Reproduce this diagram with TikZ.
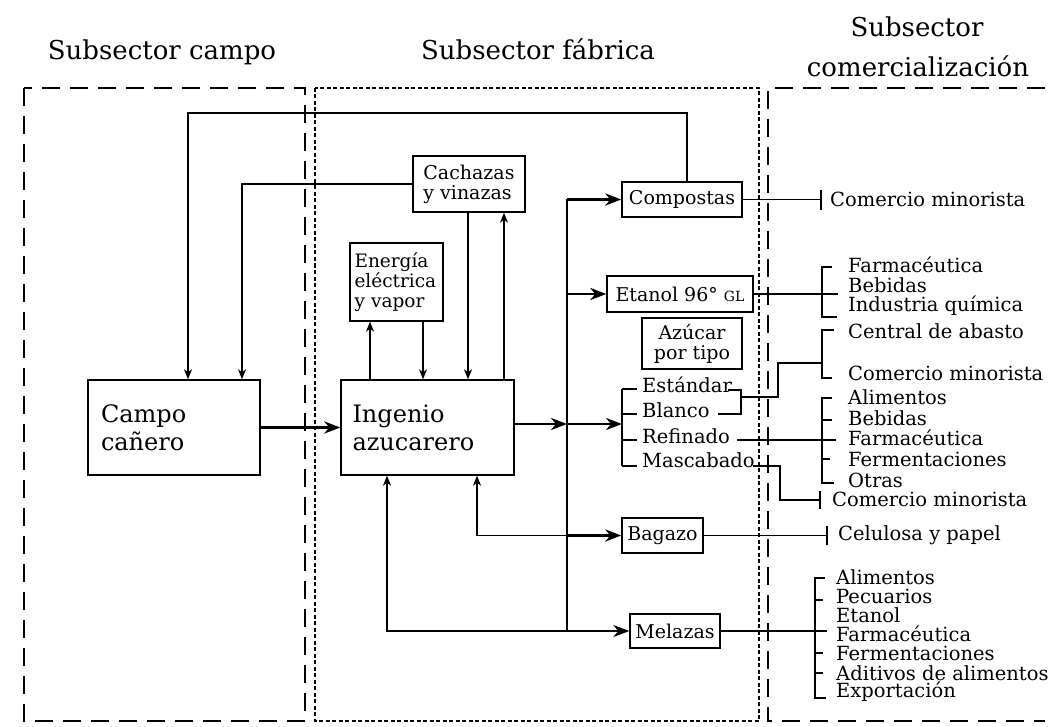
\documentclass[tikz,border=0pt]{standalone}
\usepackage{fontspec}
\setmainfont{DejaVu Serif}
\usetikzlibrary{arrows.meta}

\newcommand\ttlfont{\fontsize{26}{30}\selectfont}
\newcommand\bxfont{\fontsize{24}{28}\selectfont}
\newcommand\smfont{\fontsize{19}{20}\selectfont}
\newcommand\lblfont{\fontsize{19.5}{20}\selectfont}

\begin{document}
\begin{tikzpicture}[x=1pt,y=-1pt,
  ttl/.style={font=\ttlfont, inner sep=0pt, anchor=base},
  box/.style={draw, line width=1.4pt, inner sep=0pt, font=\smfont, align=center},
  bigbox/.style={draw, line width=1.4pt, inner sep=0pt, font=\bxfont, align=left,
                 minimum height=95pt},
  lbl/.style={font=\lblfont, inner sep=0pt, anchor=west},
  ln/.style={line width=1.2pt},
  med/.style={line width=1.6pt},
  heavy/.style={line width=2.8pt},
  ar/.style={-{Stealth[length=10pt,width=8pt,inset=3pt]}},
  rar/.style={{Stealth[length=10pt,width=8pt,inset=3pt]}-},
  har/.style={-{Stealth[length=16pt,width=12pt,inset=5pt]}},
  longdash/.style={line width=2pt, dash pattern=on 18pt off 10pt},
  finedash/.style={line width=1.3pt, dash pattern=on 4pt off 2.5pt},
]
\useasboundingbox (0,0) rectangle (1051,727);

% ---- sector frames ----
\draw[longdash] (24,88) rectangle (305,721);
\draw[finedash] (315,88) rectangle (759,721);
\draw[longdash] (1045,88) -- (768,88) -- (768,721) -- (1045,721);

% ---- titles ----
\node[ttl] (tcampo) at (162,60) {Subsector campo};
\node[ttl] (tfab) at (538,60) {Subsector fábrica};
\node[ttl] (tcom1) at (917,37) {Subsector};
\node[ttl] (tcom2) at (918,77) {comercialización};

% ---- boxes ----
\node[bigbox, minimum width=172pt, text width=146pt] (campo) at (174,427.5) {Campo\\cañero};
\node[bigbox, minimum width=173pt, text width=150pt] (ingenio) at (427.5,427.5) {Ingenio\\azucarero};
\node[box, minimum width=112pt, minimum height=56pt, align=left] (cachazas) at (469,184) {Cachazas\\y vinazas};
\node[box, minimum width=93pt, minimum height=78pt, text width=84pt, align=left,
      font=\fontsize{18.5}{20}\selectfont] (energia) at (396.5,282) {Energía\\eléctrica\\y vapor};
\node[box, minimum width=120pt, minimum height=35pt] (compostas) at (682,199.5) {Compostas};
\node[box, minimum width=146pt, minimum height=36pt] (etanol) at (680,294)
      {Etanol 96° {\fontsize{14}{14}\selectfont GL}};
\node[box, minimum width=100pt, minimum height=51pt] (azucar) at (692,343.5) {Azúcar\\por tipo};
\node[box, minimum width=81pt, minimum height=35pt] (bagazo) at (662.5,535.5) {Bagazo};
\node[box, minimum width=90pt, minimum height=34pt] (melazas) at (675,631) {Melazas};

% ---- columns and rows used by the connectors ----
\coordinate (xloop) at (188,0);
\coordinate (xcach) at (242,0);
\coordinate (xen1) at (370,0);
\coordinate (xen2) at (423,0);
\coordinate (xmel) at (387,0);
\coordinate (xbag) at (477,0);
\coordinate (xca1) at (468,0);
\coordinate (xca2) at (504,0);
\coordinate (xcomp) at (687,0);
\coordinate (trunk) at (567,0);
\coordinate (ytop) at (0,113);
\coordinate (ysug) at (0,424);
\coordinate (sbr) at (622,0);

% ---- returns to the field ----
\draw[ln, ar] (compostas.north -| xcomp) -- (xcomp |- ytop) -| (campo.north -| xloop);
\draw[ln, ar] (cachazas.west) -| (campo.north -| xcach);

% ---- exchanges around the mill ----
\draw[ln, ar] (cachazas.south -| xca1) -- (ingenio.north -| xca1);
\draw[ln, ar] (ingenio.north -| xca2) -- (cachazas.south -| xca2);
\draw[ln, ar] (ingenio.north -| xen1) -- (energia.south -| xen1);
\draw[ln, ar] (energia.south -| xen2) -- (ingenio.north -| xen2);

% ---- main flow ----
\draw[heavy, har] (campo.east) -- (ingenio.west);
\draw[heavy, har] (ingenio.east |- ysug) -- (trunk |- ysug);
\draw[heavy, har] (trunk |- ysug) -- (sbr |- ysug);
\draw[med] (trunk |- compostas.west) -- (trunk |- melazas.west);
\draw[heavy, har] (trunk |- compostas.west) -- (compostas.west);
\draw[heavy, har] (trunk |- etanol.west) -- (etanol.west);
\draw[med, rar] (ingenio.south -| xbag) |- (trunk |- bagazo.west);
\draw[heavy, har] (trunk |- bagazo.west) -- (bagazo.west);
\draw[med, rar] (ingenio.south -| xmel) |- (trunk |- melazas.west);
\draw[med, har] (trunk |- melazas.west) -- (melazas.west);

% ---- sugar types ----
\node[lbl] (est) at (642,385) {Estándar};
\node[lbl] (bla) at (642,410) {Blanco};
\node[lbl] (ref) at (642,436) {Refinado};
\node[lbl] (mas) at (642,460) {Mascabado};
\draw[ln] (622,389) -- (622,466);
\foreach \yy in {389,414,440,466} \draw[ln] (622,\yy) -- (637,\yy);

% ---- market labels ----
\node[lbl] (c1) at (830,199) {Comercio minorista};
\foreach \nm/\tx/\yy in {e1/Farmacéutica/265, e2/Bebidas/285, e3/Industria química/306,
                         s1/Central de abasto/331, s2/Comercio minorista/373,
                         r1/Alimentos/397, r2/Bebidas/418, r3/Farmacéutica/438,
                         r4/Fermentaciones/459, r5/Otras/480}
  \node[lbl] (\nm) at (848,\yy) {\tx};
\node[lbl] (c2) at (832,499) {Comercio minorista};
\node[lbl] (cel) at (838,535) {Celulosa y papel};
\foreach \nm/\tx/\yy in {m1/Alimentos/577, m2/Pecuarios/596, m3/Etanol/615,
                         m4/Farmacéutica/634, m5/Fermentaciones/653,
                         m6/Aditivos de alimentos/673, m7/Exportación/692}
  \node[lbl] (\nm) at (836,\yy) {\tx};

% compostas
\draw[ln] (compostas.east) -- (821,199.5);
\draw[ln] (821,190) -- (821,210);
% etanol
\draw[line width=2.2pt] (etanol.east) -- (838,294);
\draw[ln] (832,267) -- (822,267) -- (822,317) -- (837,317);
% estandar / blanco to central de abasto
\draw[ln] (728,390) -- (741,390) -- (741,414) -- (718,414);
\draw[ln] (741,397) -- (778,397) -- (778,363) -- (822,363);
\draw[ln] (834,330) -- (822,330) -- (822,378) -- (832,378);
% refinado
\draw[ln] (737,440) -- (836,440);
\draw[ln] (832,398) -- (822,398) -- (822,483) -- (834,483);
\draw[ln] (822,420) -- (832,420);
\draw[ln] (822,459) -- (830,459);
% mascabado
\draw[ln] (753,466) -- (780,466) -- (780,500) -- (820,500);
\draw[ln] (820,491) -- (820,509);
% bagazo
\draw[ln] (bagazo.east) -- (827,535.5);
\draw[ln] (827,526) -- (827,545);
% melazas
\draw[med] (melazas.east) -- (827,631);
\draw[ln] (825,578) -- (815,578) -- (815,698) -- (826,698);
\foreach \yy in {600,653,673} \draw[ln] (815,\yy) -- (823,\yy);
\end{tikzpicture}
\end{document}
